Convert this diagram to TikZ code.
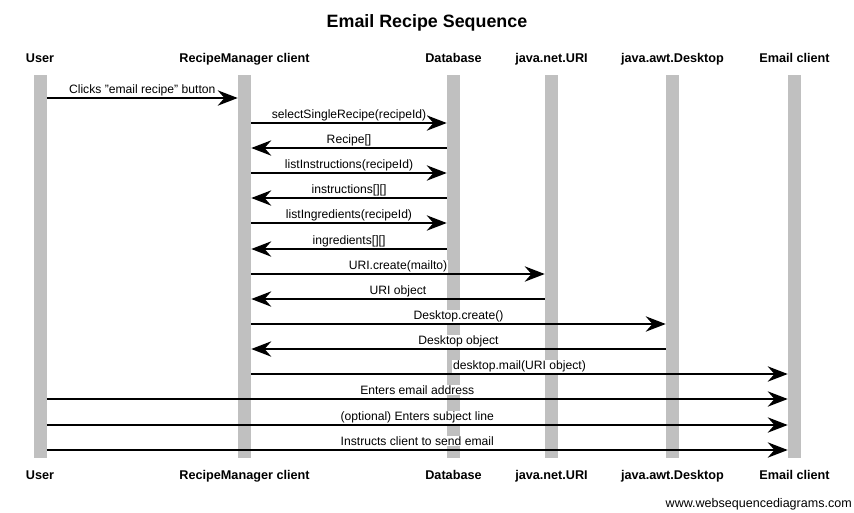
\documentclass[tikz,border=0pt]{standalone}
\usepackage{fontspec}
\setmainfont{Liberation Sans}
\usetikzlibrary{arrows.meta}
\definecolor{bargray}{RGB}{192,192,192}
\tikzset{
  bar/.style={fill=bargray, draw=none, inner sep=0pt, minimum width=9.75pt, minimum height=287.25pt},
  part/.style={font=\bfseries\fontsize{9.5pt}{11pt}\selectfont, inner sep=0pt, anchor=base},
  msg/.style={line width=1.5pt, -{Stealth[length=15pt, width=11.5pt, inset=5pt]}},
  lbl/.style={midway, anchor=base, yshift=3.4pt, fill=white, inner sep=0.5pt, font=\fontsize{9.1pt}{10.5pt}\selectfont}
}
\begin{document}
\begin{tikzpicture}[x=0.75pt, y=-0.75pt]
\useasboundingbox (0,0) rectangle (854,512);
\node[anchor=base, inner sep=0pt, font=\bfseries\fontsize{13.4pt}{16pt}\selectfont] (title) at (427,27) {Email Recipe Sequence};
% lifelines
\node[bar] (u)   at (40,266.5) {};
\node[bar] (rm)  at (244.5,266.5) {};
\node[bar] (db)  at (453.5,266.5) {};
\node[bar] (uri) at (551.5,266.5) {};
\node[bar] (dt)  at (672.5,266.5) {};
\node[bar] (ec)  at (794.5,266.5) {};
% participant names
\node[part] (ut)  at (40,62) {User};
\node[part] (rmt) at (244.5,62) {RecipeManager client};
\node[part] (dbt) at (453.5,62) {Database};
\node[part] (urit) at (551.5,62) {java.net.URI};
\node[part] (dtt) at (672.5,62) {java.awt.Desktop};
\node[part] (ect) at (794.5,62) {Email client};
\node[part] (ub)  at (40,479) {User};
\node[part] (rmb) at (244.5,479) {RecipeManager client};
\node[part] (dbb) at (453.5,479) {Database};
\node[part] (urib) at (551.5,479) {java.net.URI};
\node[part] (dtb) at (672.5,479) {java.awt.Desktop};
\node[part] (ecb) at (794.5,479) {Email client};
% message rows
\foreach \i/\y in {1/98,2/123,3/148,4/173,5/198,6/223,7/249,8/274,9/299,10/324,11/349,12/374,13/399,14/425,15/450}
  \coordinate (m\i) at (0,\y);
\draw[msg] (u.east |- m1) -- node[lbl] {Clicks "email recipe" button} (rm.west |- m1);
\draw[msg] (rm.east |- m2) -- node[lbl] {selectSingleRecipe(recipeId)} (db.west |- m2);
\draw[msg] (db.west |- m3) -- node[lbl] {Recipe[]} (rm.east |- m3);
\draw[msg] (rm.east |- m4) -- node[lbl] {listInstructions(recipeId)} (db.west |- m4);
\draw[msg] (db.west |- m5) -- node[lbl] {instructions[][]} (rm.east |- m5);
\draw[msg] (rm.east |- m6) -- node[lbl] {listIngredients(recipeId)} (db.west |- m6);
\draw[msg] (db.west |- m7) -- node[lbl] {ingredients[][]} (rm.east |- m7);
\draw[msg] (rm.east |- m8) -- node[lbl] {URI.create(mailto)} (uri.west |- m8);
\draw[msg] (uri.west |- m9) -- node[lbl] {URI object} (rm.east |- m9);
\draw[msg] (rm.east |- m10) -- node[lbl] {Desktop.create()} (dt.west |- m10);
\draw[msg] (dt.west |- m11) -- node[lbl] {Desktop object} (rm.east |- m11);
\draw[msg] (rm.east |- m12) -- node[lbl] {desktop.mail(URI object)} (ec.west |- m12);
\draw[msg] (u.east |- m13) -- node[lbl] {Enters email address} (ec.west |- m13);
\draw[msg] (u.east |- m14) -- node[lbl] {(optional) Enters subject line} (ec.west |- m14);
\draw[msg] (u.east |- m15) -- node[lbl] {Instructs client to send email} (ec.west |- m15);
\node[anchor=base east, inner sep=0pt, font=\fontsize{9.4pt}{11pt}\selectfont] (wm) at (852,507) {www.websequencediagrams.com};
\end{tikzpicture}
\end{document}
